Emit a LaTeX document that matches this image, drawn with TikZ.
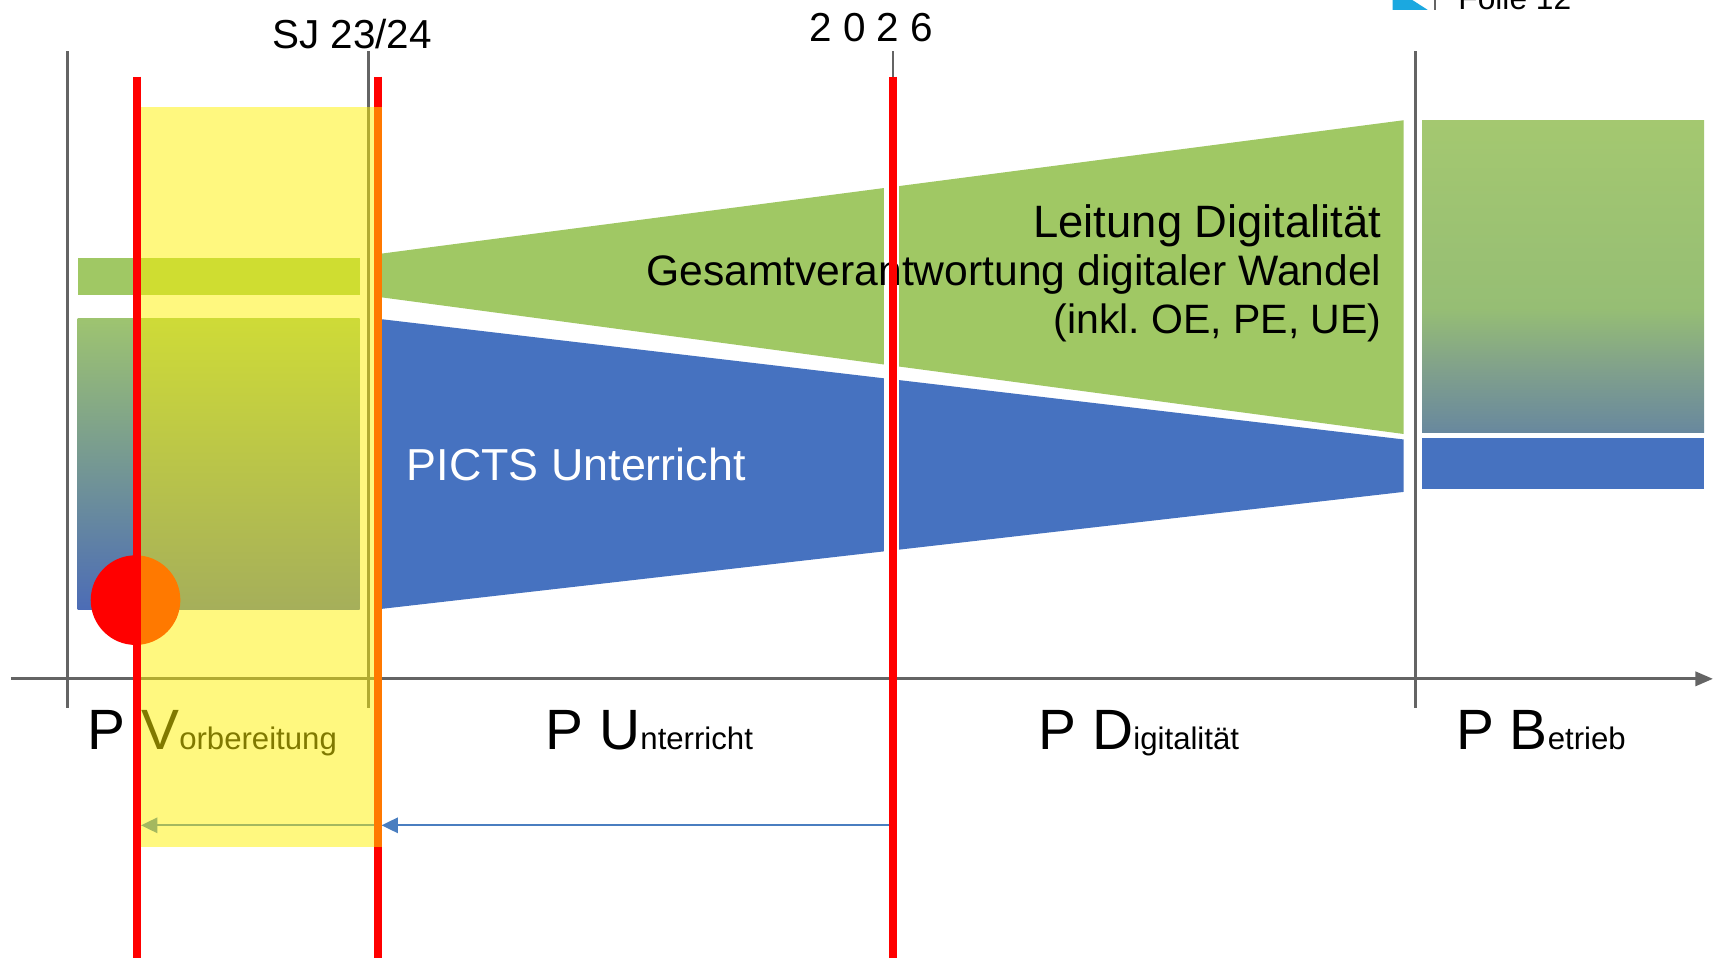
\documentclass[tikz,border=0pt]{standalone}
\usepackage{fontspec}
\setmainfont{Liberation Sans}
\usetikzlibrary{arrows.meta}
\frenchspacing
\definecolor{pgreen}{RGB}{160,200,100}
\definecolor{pblue}{RGB}{70,114,192}
\definecolor{axgray}{RGB}{100,100,100}
\definecolor{arrblue}{RGB}{74,126,192}
\definecolor{iconblue}{RGB}{27,168,224}
\definecolor{gradtop}{RGB}{158,196,112}
\definecolor{gradmid}{RGB}{126,160,142}
\definecolor{gradbot}{RGB}{76,108,182}
\definecolor{rtop}{RGB}{164,200,112}
\definecolor{rmid}{RGB}{150,190,116}
\definecolor{rlow}{RGB}{128,160,140}
\definecolor{rbot}{RGB}{104,136,158}
\pgfdeclareverticalshading{rightgrad}{100bp}{color(0bp)=(rbot); color(25bp)=(rbot); color(35bp)=(rlow); color(45bp)=(rmid); color(75bp)=(rtop); color(100bp)=(rtop)}
\newcommand{\phaselbl}[2]{{\fontsize{52}{60}\selectfont P #1}{\fontsize{28.5}{34}\selectfont #2}}
\begin{document}
\begin{tikzpicture}[x=1pt,y=-1pt,
  txt/.style={font=\fontsize{39}{44}\selectfont, inner sep=0pt},
  toplbl/.style={font=\fontsize{37}{42}\selectfont, inner sep=0pt, anchor=base},
  phase/.style={inner sep=0pt, anchor=base west},
  grayline/.style={draw=axgray, line width=2.5pt},
  redline/.style={draw=red, line width=7.5pt},
  bluearrow/.style={draw=arrblue, line width=2pt, -{Triangle[length=15pt,width=14pt]}}]
\path[use as bounding box] (0,0) rectangle (1568,876);
\clip (0,0) rectangle (1568,876);
\fill[white] (0,0) rectangle (1568,876);

% left phase bars
\fill[pgreen] (71,236) rectangle (329,270);
\shade[top color=gradtop, middle color=gradmid, bottom color=gradbot] (71,291) rectangle (329,558);

% trapezoids
\fill[pgreen] (349,232) -- (1284,110) -- (1284,397) -- (349,272) -- cycle;
\fill[pblue] (349,292) -- (1284,402) -- (1284,450) -- (349,557) -- cycle;
\fill[white] (809,150) rectangle (822,520);

% right bars
\shade[shading=rightgrad] (1301,110) rectangle (1559,396);
\fill[pblue] (1301,401) rectangle (1559,447);

% texts
\node[txt, font=\fontsize{41.5}{46}\selectfont, anchor=base east] (l1) at (1264,217) {Leitung Digitalität};
\node[txt, anchor=base east] (l2) at (1264,261) {Gesamtverantwortung digitaler Wandel};
\node[txt, font=\fontsize{37.5}{42}\selectfont, anchor=base east] (l3) at (1264,305) {(inkl. OE, PE, UE)};
\node[txt, font=\fontsize{41}{46}\selectfont, text=white, anchor=base west] (picts) at (372,440) {PICTS Unterricht};

\node[phase] (pv) at (80,686) {\phaselbl{V}{orbereitung}};
\node[phase] (pu) at (499,686) {\phaselbl{U}{nterricht}};
\node[phase] (pd) at (950,686) {\phaselbl{D}{igitalität}};
\node[phase] (pb) at (1332,686) {\phaselbl{B}{etrieb}};

\node[toplbl] (sj) at (322,44) {SJ 23/24};
\node[toplbl] (yr) at (797,38) {2 0 2 6};
\node[phase, font=\fontsize{29}{34}\selectfont] (folie) at (1334,9) {Folie 12};
\fill[iconblue] (1274,0) -- (1292,0) -- (1306,9) -- (1274,9) -- cycle;
\draw[axgray, line width=1.5pt] (1313,0) -- (1313,9);

% gray lines and axis
\draw[grayline] (62,47) -- (62,648);
\draw[grayline] (337,47) -- (337,648);
\draw[grayline] (817,47) -- (817,648);
\draw[grayline] (1295,47) -- (1295,648);
\draw[axgray, line width=2.5pt, -{Triangle[length=16pt,width=13pt]}] (10,621) -- (1567,621);

% arrows
\coordinate (a1s) at (817,755);
\coordinate (a1e) at (349,755);
\coordinate (a2s) at (345,755);
\coordinate (a2e) at (129,755);
\draw[bluearrow] (a1s) -- (a1e);
\draw[bluearrow] (a2s) -- (a2e);

% circle
\fill[red] (124,549) circle[radius=41pt];

% red lines
\draw[redline] (125,70) -- (125,876);
\draw[redline] (345.5,70) -- (345.5,876);
\draw[redline] (817,70) -- (817,876);

% yellow overlay
\fill[yellow, opacity=0.5] (129,98) rectangle (349.5,775);
\end{tikzpicture}
\end{document}
